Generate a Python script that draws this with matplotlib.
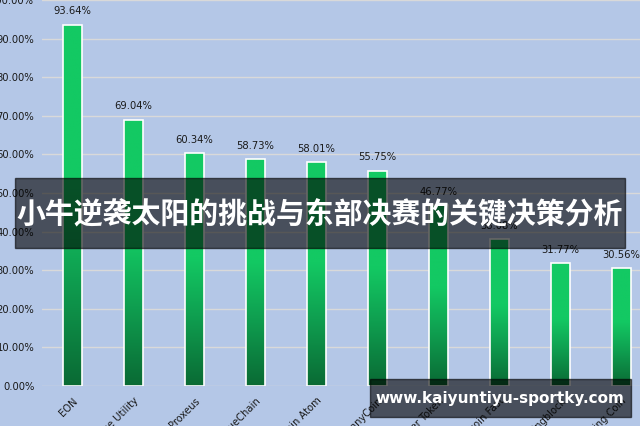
import matplotlib
matplotlib.use('Agg')
import matplotlib.pyplot as plt
import numpy as np
from matplotlib.patches import Rectangle
from matplotlib.colors import LinearSegmentedColormap

# chart data
coins = ['EON', 'Sense Utility', 'Proxeus', 'TrueChain', 'Bitcoin Atom',
         'PennyCoin', 'Router Token', 'Bitcoin Fast', 'Lendingblock', 'Sharing Coin']
shares = [93.64, 69.04, 60.34, 58.73, 58.01, 55.75, 46.77, 38.08, 31.77, 30.56]
y_ticks = [0, 10, 20, 30, 40, 50, 60, 70, 80, 90, 100]

title = '小牛逆袭太阳的挑战与东部决赛的关键决策分析'
site = 'www.kaiyuntiyu-sportky.com'

bg = '#b4c7e7'
fig = plt.figure(figsize=(6.4, 4.26), dpi=100, facecolor=bg)
W, H = 640, 426
ax = fig.add_axes([42 / W, 1 - 386 / H, 610 / W, 386 / H])
ax.set_facecolor(bg)

x = np.arange(len(coins))
bars = ax.bar(x, shares, width=0.31, color='none', edgecolor='white', linewidth=1.2, zorder=3)

# vertical green gradient inside each bar, bright top, dark bottom
green = LinearSegmentedColormap.from_list(
    'g', [(0.0, '#0a6a34'), (0.3, '#0f9f50'), (0.55, '#13c963'), (1.0, '#13c963')])
grad = np.linspace(0, 1, 256).reshape(-1, 1)
for b in bars:
    x0, w, h = b.get_x(), b.get_width(), b.get_height()
    im = ax.imshow(grad, cmap=green, origin='lower', aspect='auto',
                   extent=(x0, x0 + w, 0, h), zorder=2)
    im.set_clip_path(b)
    ax.annotate(f'{h:.2f}%', (x0 + w / 2, h), xytext=(0, 6), textcoords='offset points',
                ha='center', va='bottom', fontsize=7.2, color='#1a1a1a', zorder=4)

ax.set_xlim(-0.5, len(coins) - 0.5)
ax.set_ylim(0, 100)
ax.set_yticks(y_ticks)
ax.set_yticklabels([f'{t:.2f}%' for t in y_ticks], fontsize=7.2, color='#1a1a1a')
ax.yaxis.grid(True, color='#d9d9d9', linewidth=1)
ax.set_axisbelow(True)
ax.tick_params(axis='y', length=0, pad=5.5)
ax.tick_params(axis='x', length=0, pad=7)
ax.set_xticks(x)
ax.set_xticklabels(coins, rotation=45, ha='right', rotation_mode='anchor',
                   fontsize=7.2, color='#1a1a1a')
for s in ax.spines.values():
    s.set_visible(False)

# overlay banners
fig.patches.append(Rectangle((15 / W, 1 - 248 / H), 610 / W, 70 / H,
                             transform=fig.transFigure, color='black', alpha=0.6, zorder=10))
fig.text(320 / W, 1 - 214 / H, title, ha='center', va='center', color='white',
         fontsize=20.8, fontweight='bold', family=['Noto Sans CJK SC', 'DejaVu Sans'], zorder=11)

fig.patches.append(Rectangle((370 / W, 1 - 417 / H), 261 / W, 38 / H,
                             transform=fig.transFigure, color='black', alpha=0.6, zorder=10))
fig.text(500 / W, 1 - 399 / H, site, ha='center', va='center', color='white',
         fontsize=11, fontweight='bold', zorder=11)

fig.savefig('out.png', dpi=100, facecolor=bg)
